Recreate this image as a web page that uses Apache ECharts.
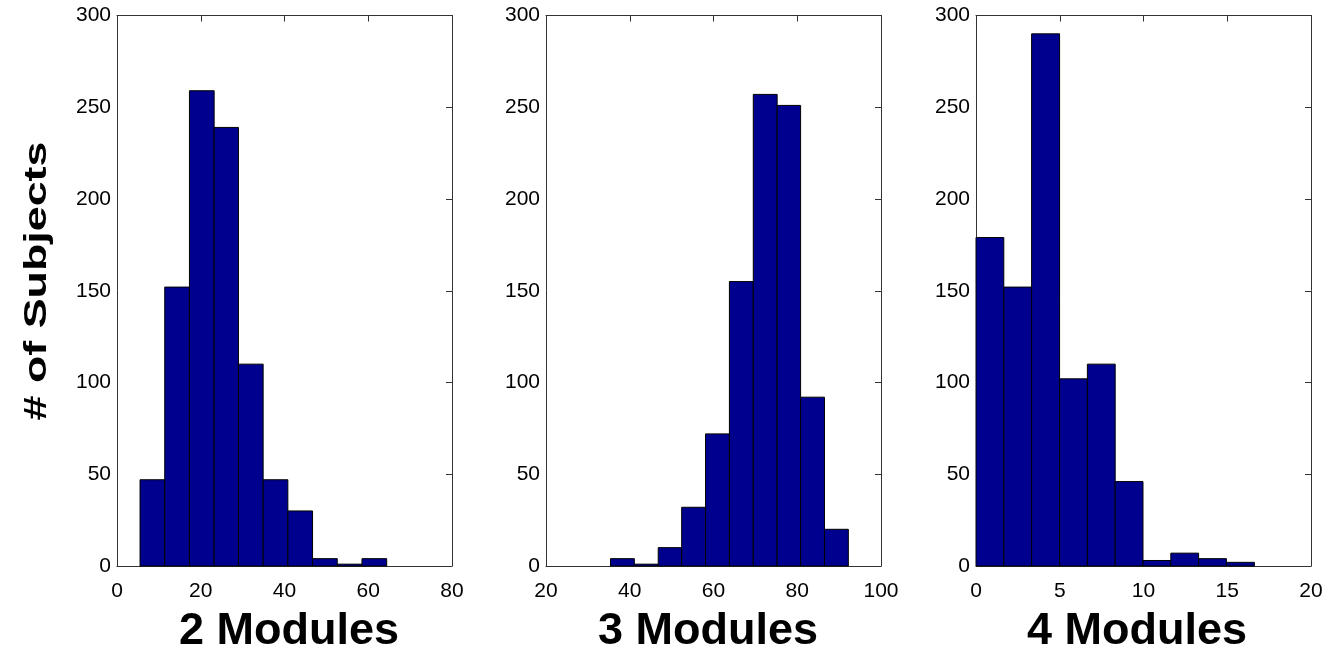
<!DOCTYPE html>
<html>
<head>
<meta charset="utf-8">
<script src="https://cdn.jsdelivr.net/npm/echarts@6/dist/echarts.min.js"></script>
<style>
html,body{margin:0;padding:0;background:#fff;}
#chart{width:1334px;height:657px;}
</style>
</head>
<body>
<div id="chart"></div>
<script>
// ---- Data ----
const panelTitles = ['2 Modules', '3 Modules', '4 Modules'];
const yLabel = '# of Subjects';

const edges2 = [5.5, 11.4, 17.3, 23.2, 29.0, 34.9, 40.8, 46.7, 52.6, 58.5, 64.4];
const counts2 = [47, 152, 259, 239, 110, 47, 30, 4, 1, 4];

const edges3 = [35.4, 41.1, 46.8, 52.4, 58.1, 63.8, 69.5, 75.2, 80.8, 86.5, 92.2];
const counts3 = [4, 1, 10, 32, 72, 155, 257, 251, 92, 20];

const edges4 = [0, 1.66, 3.32, 4.99, 6.65, 8.31, 9.97, 11.63, 13.29, 14.95, 16.62];
const counts4 = [179, 152, 290, 102, 110, 46, 3, 7, 4, 2];

const xRanges = [[0, 80, 20], [20, 100, 20], [0, 20, 5]];
const yRange = [0, 300, 50];

// ---- Build ----
const panels = [[edges2, counts2], [edges3, counts3], [edges4, counts4]];
const gridLefts = [117, 546, 976];
const gridW = 335, gridTop = 15.5, gridH = 550.5;
const lineColor = '#333';
const fontFam = '"Liberation Sans", Arial, Helvetica, sans-serif';

const grids = [], xAxes = [], yAxes = [], series = [];
panels.forEach((p, i) => {
  grids.push({left: gridLefts[i], top: gridTop, width: gridW, height: gridH, containLabel: false});
  const [xmin, xmax, xint] = xRanges[i];
  xAxes.push({
    type: 'value', gridIndex: i, position: 'bottom', min: xmin, max: xmax, interval: xint,
    axisLine: {show: true, onZero: false, lineStyle: {color: lineColor, width: 1}},
    axisTick: {show: false}, splitLine: {show: false},
    axisLabel: {show: true, color: '#000', fontSize: 21, fontFamily: fontFam, margin: 15}
  });
  xAxes.push({
    type: 'value', gridIndex: i, position: 'top', min: xmin, max: xmax, interval: xint,
    axisLine: {show: true, onZero: false, lineStyle: {color: lineColor, width: 1}},
    axisTick: {show: true, inside: true, length: 6, lineStyle: {color: lineColor}},
    splitLine: {show: false}, axisLabel: {show: false}
  });
  yAxes.push({
    type: 'value', gridIndex: i, position: 'left', min: yRange[0], max: yRange[1], interval: yRange[2],
    axisLine: {show: true, onZero: false, lineStyle: {color: lineColor, width: 1}},
    axisTick: {show: false}, splitLine: {show: false},
    axisLabel: {show: true, color: '#000', fontSize: 21, fontFamily: fontFam, margin: 6}
  });
  yAxes.push({
    type: 'value', gridIndex: i, position: 'right', min: yRange[0], max: yRange[1], interval: yRange[2],
    axisLine: {show: true, onZero: false, lineStyle: {color: lineColor, width: 1}},
    axisTick: {show: true, inside: true, length: 6, lineStyle: {color: lineColor}},
    splitLine: {show: false}, axisLabel: {show: false}
  });
  const [edges, counts] = p;
  const data = counts.map((c, k) => [edges[k], edges[k + 1], c]);
  series.push({
    type: 'custom', xAxisIndex: i * 2, yAxisIndex: i * 2,
    encode: {x: [0, 1], y: 2},
    data: data,
    renderItem: function (params, api) {
      const s = api.value(0), e = api.value(1), v = api.value(2);
      const p0 = api.coord([s, v]);
      const p1 = api.coord([e, 0]);
      return {
        type: 'rect',
        shape: {x: p0[0], y: p0[1], width: p1[0] - p0[0], height: p1[1] - p0[1]},
        style: {fill: '#00008F', stroke: '#000', lineWidth: 1}
      };
    },
    z: 1
  });
});

const titleX = [289, 708, 1137];
const graphics = panelTitles.map((t, i) => ({
  type: 'text', x: titleX[i], y: 632,
  style: {text: t, fill: '#000', font: 'bold 45px ' + fontFam, textAlign: 'center', textVerticalAlign: 'middle'}
}));
graphics.push({
  type: 'text', x: 37, y: 281, rotation: Math.PI / 2, scaleX: 1.4, scaleY: 1,
  style: {text: yLabel, fill: '#000', font: 'bold 32px ' + fontFam, textAlign: 'center', textVerticalAlign: 'middle'}
});

const chart = echarts.init(document.getElementById('chart'), null, {renderer: 'canvas'});
chart.setOption({
  animation: false,
  backgroundColor: '#fff',
  grid: grids,
  xAxis: xAxes,
  yAxis: yAxes,
  series: series,
  graphic: graphics
});
</script>
</body>
</html>
